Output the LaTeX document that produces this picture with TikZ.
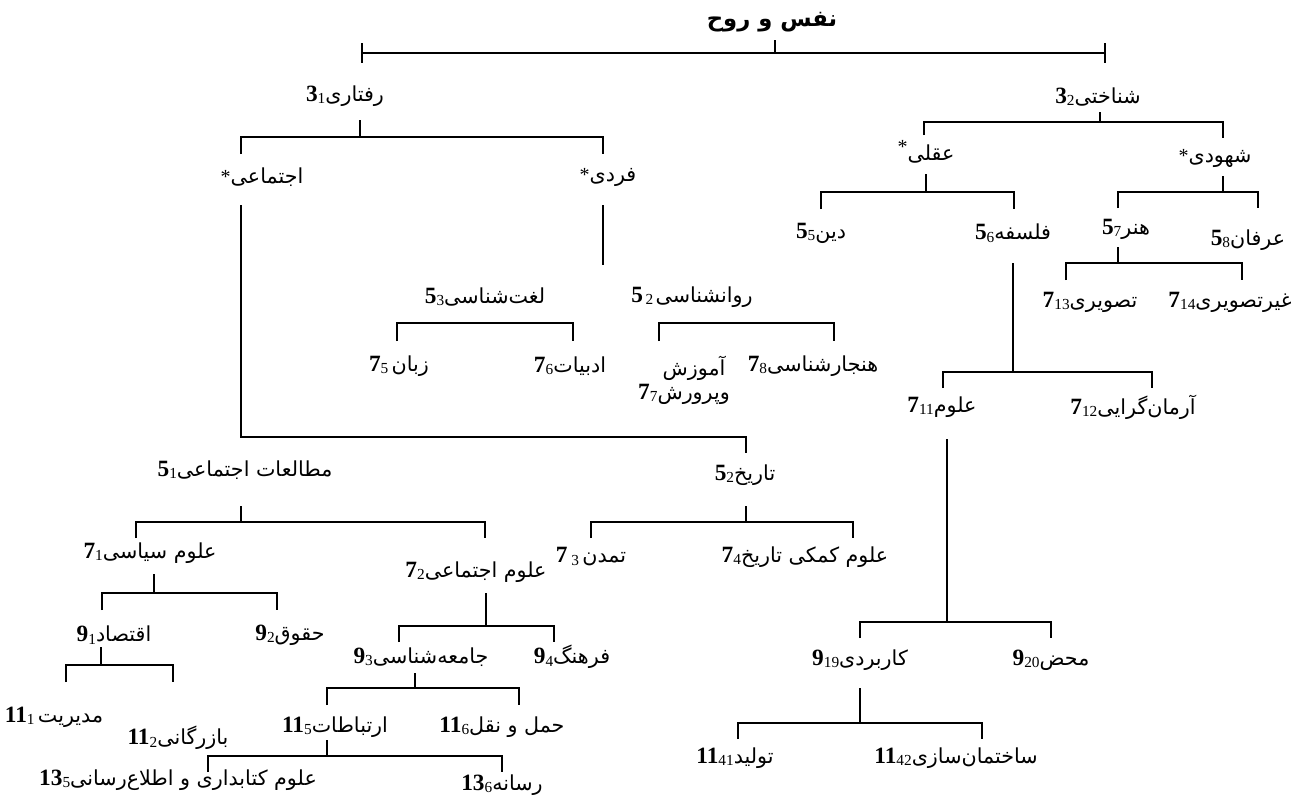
\documentclass[tikz,border=0pt]{standalone}
\usepackage{fontspec}
\setmainfont{Liberation Serif}
\newfontfamily\arfont[Script=Arabic]{DejaVu Sans}
\TeXXeTstate=1
\newcommand{\fa}[1]{{\arfont\fontsize{15.5}{18}\selectfont\beginR #1\endR}}
\newcommand{\nm}[2]{{\fontsize{17.5}{19}\selectfont\bfseries #1}{\fontsize{11.5}{12}\selectfont\raisebox{-0.35ex}{#2}}}
\newcommand{\brk}[4]{\draw (#1,#4)--(#1,#3)--(#2,#3)--(#2,#4);}
\begin{document}
\begin{tikzpicture}[x=0.75pt,y=-0.75pt,line width=1.1pt,
  lbl/.style={inner sep=0pt,anchor=center}]
\useasboundingbox (0,0) rectangle (1305,811);
% title and top line
\node[lbl] (title) at (772,22) {{\arfont\bfseries\fontsize{17}{20}\selectfont\beginR نفس و روح\endR}};
\draw (362,53)--(1105,53);
\draw (362,43)--(362,63);
\draw (1105,43)--(1105,63);
\draw (775,40)--(775,53);
% level 1
\node[lbl] (r1) at (345,96) {\nm{3}{1}\fa{رفتاری}};
\node[lbl] (r2) at (1098,97) {\nm{3}{2}\fa{شناختی}};
% raftari subtree
\draw (360,120)--(360,137);
\brk{241}{603}{137}{154}
\node[lbl] (ejt) at (262,177) {{\fontsize{15}{18}\selectfont *}\fa{اجتماعی}};
\node[lbl] (fard) at (608,177) {{\fontsize{15}{18}\selectfont *}\fa{فردی}};
\draw (603,205)--(603,265);
\node[lbl] (loghat) at (485,297) {\nm{5}{3}\fa{لغت^^^^200cشناسی}};
\node[lbl] (ravan) at (692,297) {\nm{5}{\,2}\,\fa{روانشناسی}};
\brk{397}{573}{323}{341}
\brk{659}{834}{323}{341}
\node[lbl] (zaban) at (399,366) {\nm{7}{5}\ \fa{زبان}};
\node[lbl] (adab) at (570,366) {\nm{7}{6}\fa{ادبیات}};
\node[lbl,align=center] (amuzesh) at (684,380) {\hspace*{1.5em}\fa{آموزش}\\[2pt]\nm{7}{7}\fa{وپرورش}};
\node[lbl] (hanjar) at (813,366) {\nm{7}{8}\fa{هنجارشناسی}};
% ejtemai subtree
\draw (241,205)--(241,437)--(746,437)--(746,453);
\node[lbl] (motaleat) at (245,470) {\nm{5}{1}\fa{مطالعات اجتماعی}};
\node[lbl] (tarikh) at (745,475) {\nm{5}{2}\fa{تاریخ}};
\draw (241,506)--(241,522);
\brk{136}{485}{522}{538}
\draw (746,506)--(746,522);
\brk{591}{853}{522}{538}
\node[lbl] (tamadon) at (591,557) {\nm{7}{\ 3}\ \fa{تمدن}};
\node[lbl] (komaki) at (805,557) {\nm{7}{4}\fa{علوم کمکی تاریخ}};
\node[lbl] (siasi) at (150,553) {\nm{7}{1}\fa{علوم سیاسی}};
\draw (154,574)--(154,593);
\brk{102}{277}{593}{610}
\node[lbl] (eqtesad) at (114,635) {\nm{9}{1}\fa{اقتصاد}};
\node[lbl] (hoquq) at (290,635) {\nm{9}{2}\fa{حقوق}};
\draw (101,647)--(101,665);
\brk{66}{173}{665}{682}
\node[lbl] (modir) at (54,717) {\nm{11}{1}\ \fa{مدیریت}};
\node[lbl] (bazar) at (178,738) {\nm{11}{2}\fa{بازرگانی}};
\node[lbl] (olumej) at (476,572) {\nm{7}{2}\fa{علوم اجتماعی}};
\draw (486,593)--(486,626);
\brk{399}{554}{626}{642}
\node[lbl] (jameeh) at (421,657) {\nm{9}{3}\fa{جامعه^^^^200cشناسی}};
\node[lbl] (farhang) at (572,657) {\nm{9}{4}\fa{فرهنگ}};
\draw (415,673)--(415,688);
\brk{327}{519}{688}{705}
\node[lbl] (ertebat) at (335,727) {\nm{11}{5}\fa{ارتباطات}};
\node[lbl] (haml) at (502,727) {\nm{11}{6}\fa{حمل و نقل}};
\draw (327,740)--(327,756);
\brk{208}{502}{756}{772}
\node[lbl] (ketab) at (178,780) {\nm{13}{5}\fa{علوم کتابداری و اطلاع^^^^200cرسانی}};
\node[lbl] (resane) at (502,785) {\nm{13}{6}\fa{رسانه}};
% shenakhti subtree
\draw (1100,112)--(1100,122);
\draw (924,135)--(924,122)--(1223,122)--(1223,138);
\node[lbl] (aqli) at (926,152) {\raisebox{1.1ex}{\fontsize{15}{18}\selectfont *}\fa{عقلی}};
\node[lbl] (shohud) at (1215,158) {{\fontsize{15}{18}\selectfont *}\fa{شهودی}};
\draw (926,174)--(926,192);
\brk{821}{1014}{192}{209}
\draw (1223,176)--(1223,192);
\brk{1118}{1258}{192}{208}
\node[lbl] (din) at (821,233) {\nm{5}{5}\fa{دین}};
\node[lbl] (falsafe) at (1013,233) {\nm{5}{6}\fa{فلسفه}};
\node[lbl] (honar) at (1126,229) {\nm{5}{7}\fa{هنر}};
\node[lbl] (erfan) at (1248,240) {\nm{5}{8}\fa{عرفان}};
\draw (1118,247)--(1118,263);
\brk{1066}{1242}{263}{280}
\node[lbl] (tasviri) at (1090,302) {\nm{7}{13}\fa{تصویری}};
\node[lbl] (gheyr) at (1230,302) {\nm{7}{14}\fa{غیرتصویری}};
\draw (1013,263)--(1013,372);
\brk{943}{1152}{372}{388}
\node[lbl] (olum11) at (942,407) {\nm{7}{11}\fa{علوم}};
\node[lbl] (arman) at (1133,407) {\nm{7}{12}\fa{آرمان^^^^200cگرایی}};
\draw (947,439)--(947,622);
\brk{860}{1051}{622}{638}
\node[lbl] (karbordi) at (860,660) {\nm{9}{19}\fa{کاربردی}};
\node[lbl] (mahz) at (1051,660) {\nm{9}{20}\fa{محض}};
\draw (860,688)--(860,723);
\brk{738}{982}{723}{739}
\node[lbl] (tolid) at (735,758) {\nm{11}{41}\fa{تولید}};
\node[lbl] (sakht) at (956,758) {\nm{11}{42}\fa{ساختمان^^^^200cسازی}};
\end{tikzpicture}
\end{document}
